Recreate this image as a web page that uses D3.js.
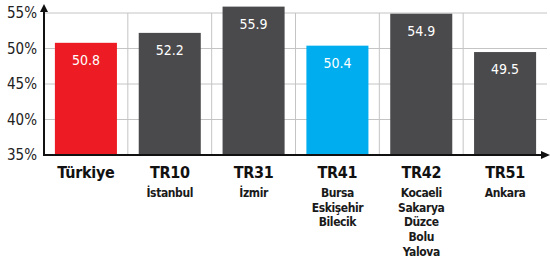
<!DOCTYPE html>
<html>
<head>
<meta charset="utf-8">
<script src="https://cdn.jsdelivr.net/npm/d3@7"></script>
<style>
  body { margin: 0; background: #fff; }
  text { font-family: "Liberation Sans Narrow", "DejaVu Sans Condensed", sans-serif; }
</style>
</head>
<body>
<div id="container"></div>
<script>
"use strict";

// data
const regions = ["Türkiye", "TR10", "TR31", "TR41", "TR42", "TR51"];
const subLabels = [
	[],
	["İstanbul"],
	["İzmir"],
	["Bursa", "Eskişehir", "Bilecik"],
	["Kocaeli", "Sakarya", "Düzce", "Bolu", "Yalova"],
	["Ankara"],
];
const values = [50.8, 52.2, 55.9, 50.4, 54.9, 49.5];
const barColors = ["#ED1C24", "#4A4A4C", "#4A4A4C", "#00AEEF", "#4A4A4C", "#4A4A4C"];
const yTicks = [35, 40, 45, 50, 55];

const W = 550, H = 263;
const plotL = 44, plotR = 547, plotT = 13, plotB = 155;

const svg = d3
	.select("#container")
	.append("svg")
	.attr("width", W)
	.attr("height", H);

const y = d3.scaleLinear().domain([35, 55]).range([plotB, plotT]);
// cells for gridlines, bars are narrower inside them
const x = d3.scaleBand().domain(regions).range([plotL, plotR]).padding(0);
const barPad = 0.13;

// horizontal gridlines
svg.append("g")
	.selectAll("line")
	.data(yTicks.slice(1))
	.enter()
	.append("line")
	.attr("x1", plotL)
	.attr("x2", plotR)
	.attr("y1", (d) => y(d))
	.attr("y2", (d) => y(d))
	.attr("stroke", "#c4c4c4")
	.attr("stroke-width", 1);

// vertical gridlines between cells
svg.append("g")
	.selectAll("line")
	.data(regions.slice(1))
	.enter()
	.append("line")
	.attr("x1", (d) => x(d))
	.attr("x2", (d) => x(d))
	.attr("y1", y(55))
	.attr("y2", plotB)
	.attr("stroke", "#c4c4c4")
	.attr("stroke-width", 1);

// bars
svg.append("g")
	.selectAll("rect")
	.data(regions)
	.enter()
	.append("rect")
	.attr("x", (d) => x(d) + x.bandwidth() * barPad)
	.attr("width", x.bandwidth() * (1 - 2 * barPad))
	.attr("y", (d, i) => y(values[i]))
	.attr("height", (d, i) => plotB - y(values[i]))
	.attr("fill", (d, i) => barColors[i]);

// value labels
svg.append("g")
	.selectAll("text")
	.data(regions)
	.enter()
	.append("text")
	.attr("x", (d) => x(d) + x.bandwidth() / 2)
	.attr("y", (d, i) => y(values[i]) + 22)
	.attr("text-anchor", "middle")
	.attr("fill", "#fff")
	.attr("font-size", 14)
	.text((d, i) => values[i].toFixed(1));

// y tick labels
svg.append("g")
	.selectAll("text")
	.data(yTicks)
	.enter()
	.append("text")
	.attr("x", 37)
	.attr("y", (d) => y(d) + 5)
	.attr("text-anchor", "end")
	.attr("fill", "#222")
	.attr("font-size", 15)
	.text((d) => d + "%");

// axes with arrows
svg.append("line")
	.attr("x1", plotL)
	.attr("x2", plotL)
	.attr("y1", plotB + 1)
	.attr("y2", 10)
	.attr("stroke", "#111")
	.attr("stroke-width", 2);
svg.append("path")
	.attr("d", `M${plotL},4 L${plotL - 4},12 L${plotL + 4},12 Z`)
	.attr("fill", "#111");
svg.append("line")
	.attr("x1", plotL - 1)
	.attr("x2", 543)
	.attr("y1", plotB)
	.attr("y2", plotB)
	.attr("stroke", "#111")
	.attr("stroke-width", 2);
svg.append("path")
	.attr("d", `M550,${plotB} L541,${plotB - 4} L541,${plotB + 4} Z`)
	.attr("fill", "#111");

// category labels
const cat = svg.append("g")
	.selectAll("g")
	.data(regions)
	.enter()
	.append("g")
	.attr("transform", (d) => `translate(${x(d) + x.bandwidth() / 2},0)`);
cat.append("text")
	.attr("y", 178)
	.attr("text-anchor", "middle")
	.attr("font-size", 16)
	.attr("font-weight", "bold")
	.attr("letter-spacing", -0.3)
	.attr("fill", "#111")
	.text((d) => d);
cat.selectAll(".sub")
	.data((d, i) => subLabels[i])
	.enter()
	.append("text")
	.attr("class", "sub")
	.attr("y", (d, j) => 197 + j * 14.7)
	.attr("text-anchor", "middle")
	.attr("font-size", 12)
	.attr("font-weight", "bold")
	.attr("letter-spacing", -0.4)
	.attr("fill", "#1a1a1a")
	.text((d) => d);
</script>
</body>
</html>
